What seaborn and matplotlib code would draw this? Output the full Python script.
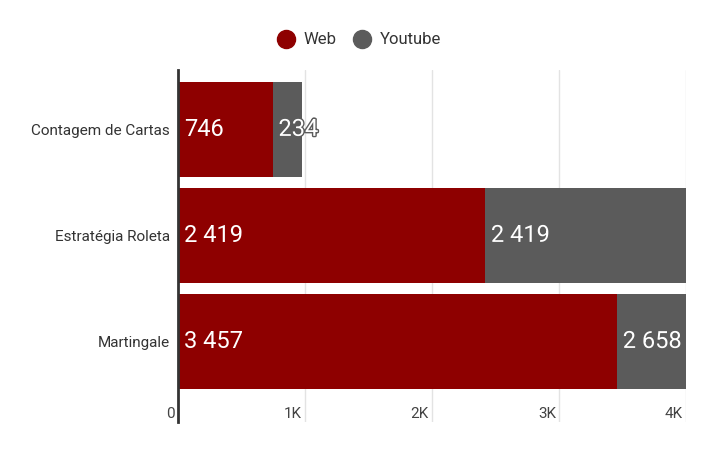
import numpy as np
import pandas as pd
import matplotlib
matplotlib.use("Agg")
import matplotlib.pyplot as plt
import matplotlib.patheffects as pe
from matplotlib.lines import Line2D
import seaborn as sns

categories = ["Contagem de Cartas", "Estratégia Roleta", "Martingale"]
web = [746, 2419, 3457]
youtube = [234, 2419, 2658]
xticks = [0, 1000, 2000, 3000, 4000]
xtick_labels = ["0", "1K", "2K", "3K", "4K"]

RED = "#8e0000"
GRAY = "#5b5b5b"

sns.set_style("white")
plt.rcParams["font.family"] = ["Roboto", "DejaVu Sans"]

df = pd.DataFrame({"cat": categories, "web": web, "youtube": youtube})
df["total"] = df["web"] + df["youtube"]

fig = plt.figure(figsize=(7.16, 4.54), dpi=100)
ax = fig.add_axes([178 / 716, 1 - 422 / 454, (686 - 178) / 716, (422 - 70) / 454])

# stacked bars: full total in gray underneath, web share in red on top
sns.barplot(data=df, x="total", y="cat", color=GRAY, width=0.9, ax=ax,
            saturation=1, linewidth=0, zorder=2)
sns.barplot(data=df, x="web", y="cat", color=RED, width=0.9, ax=ax,
            saturation=1, linewidth=0, zorder=3)

ax.set_xlim(0, 4000)
ax.set_ylim(2.76, -0.56)
ax.set(xlabel=None, ylabel=None)

# grid lines
for t in xticks[1:]:
    ax.axvline(t, color="#e3e3e3", lw=1, zorder=0)
for s in ["top", "right", "bottom"]:
    ax.spines[s].set_visible(False)
ax.spines["left"].set_color("#333333")
ax.spines["left"].set_linewidth(2)
ax.spines["left"].set_zorder(5)

ax.set_xticks([])
ax.tick_params(axis="y", length=0, pad=6, labelsize=11, labelcolor="#333333")

# x tick labels drawn inside the lower band
for t, lab in zip(xticks, xtick_labels):
    ax.text(t - 25, 2.68, lab, ha="right", va="center", fontsize=11,
            color="#444444")

# value labels
for i, row in df.iterrows():
    ax.text(45, i, f"{row['web']:,}".replace(",", " "), ha="left", va="center",
            fontsize=17, color="white", zorder=6)
    ax.text(row["web"] + 45, i, f"{row['youtube']:,}".replace(",", " "),
            ha="left", va="center", fontsize=17, color="white", zorder=6,
            path_effects=[pe.withStroke(linewidth=2, foreground=GRAY)])

handles = [Line2D([], [], marker="o", ls="", markersize=13, color=RED),
           Line2D([], [], marker="o", ls="", markersize=13, color=GRAY)]
fig.legend(handles, ["Web", "Youtube"], loc="center", bbox_to_anchor=(0.496, 1 - 40 / 454),
           ncol=2, frameon=False, fontsize=12, handletextpad=0.05, columnspacing=0.55,
           labelcolor="#333333")

fig.savefig("out.png", dpi=100)
